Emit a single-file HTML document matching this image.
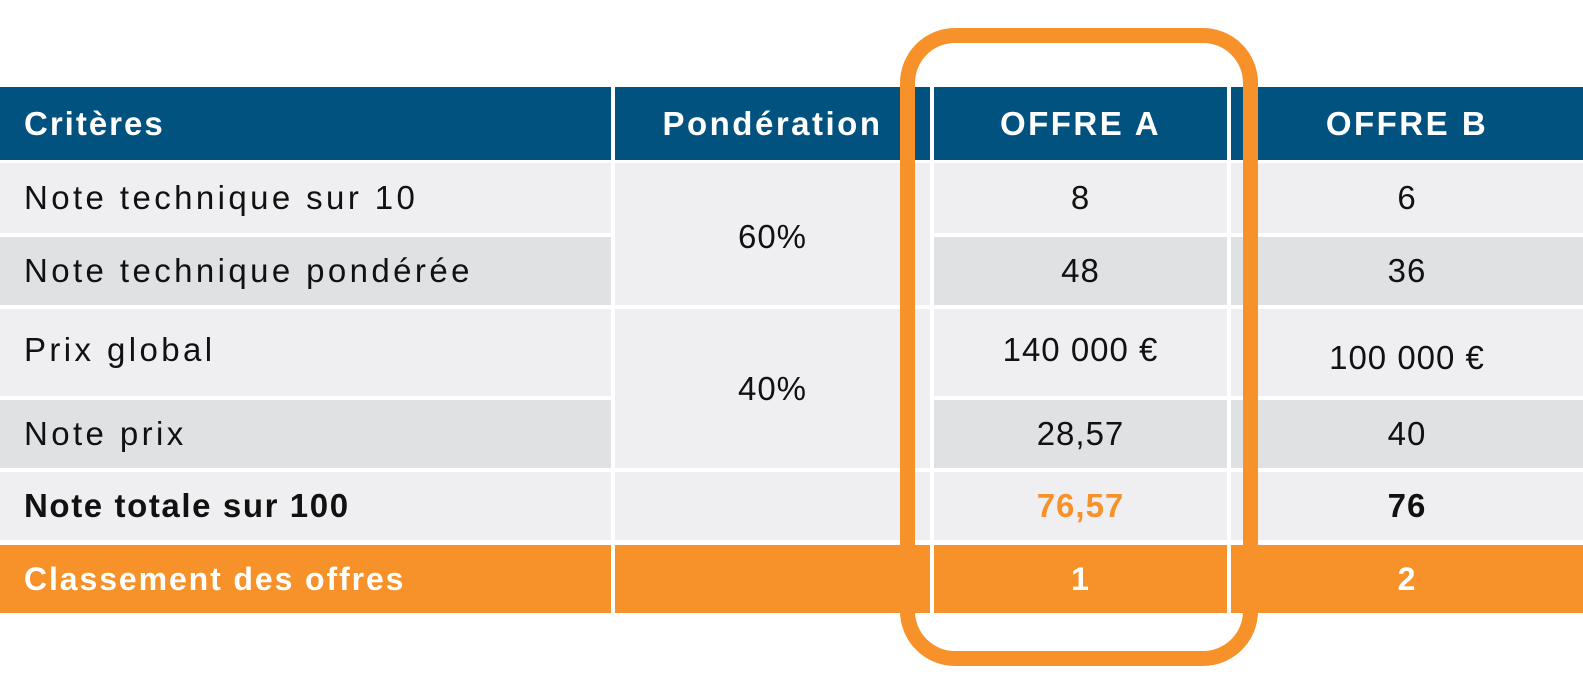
<!DOCTYPE html>
<html><head><meta charset="utf-8"><style>
body{margin:0;width:1583px;height:690px;background:#fff;position:relative;overflow:hidden;font-family:"Liberation Sans",sans-serif;}
.c{position:absolute;display:flex;align-items:center;justify-content:center;box-sizing:border-box;font-size:33px;color:#111;letter-spacing:1px;}
.l{justify-content:flex-start;padding-left:24px;letter-spacing:3.4px;}
.h{background:#02527f;color:#fff;font-weight:bold;font-size:33px;letter-spacing:2.5px;}
.h.l{letter-spacing:2px}
.a{background:#efeff1}.b{background:#e0e1e3}
.o{background:#f7922a;color:#fff;font-weight:bold;font-size:32px}
.bold{font-weight:bold}
.l.bold{letter-spacing:1.6px}
</style></head><body>
<div>
<div class="c h l" style="left:0;top:87px;width:611px;height:73px">Critères</div>
<div class="c h" style="left:615px;top:87px;width:315px;height:73px">Pondération</div>
<div class="c h" style="left:934px;top:87px;width:293px;height:73px">OFFRE A</div>
<div class="c h" style="left:1231px;top:87px;width:352px;height:73px">OFFRE B</div>

<div class="c a l" style="left:0;top:163px;width:611px;height:70px">Note technique sur 10</div>
<div class="c a" style="left:615px;top:163px;width:315px;height:142px;padding-top:6px">60%</div>
<div class="c a" style="left:934px;top:163px;width:293px;height:70px">8</div>
<div class="c a" style="left:1231px;top:163px;width:352px;height:70px">6</div>

<div class="c b l" style="left:0;top:237px;width:611px;height:68px">Note technique pondérée</div>
<div class="c b" style="left:934px;top:237px;width:293px;height:68px">48</div>
<div class="c b" style="left:1231px;top:237px;width:352px;height:68px">36</div>

<div class="c a l" style="left:0;top:309px;width:611px;height:87px;align-items:flex-start;padding-top:22px">Prix global</div>
<div class="c a" style="left:615px;top:309px;width:315px;height:159px">40%</div>
<div class="c a" style="left:934px;top:309px;width:293px;height:87px;align-items:flex-start;padding-top:22px">140 000 €</div>
<div class="c a" style="left:1231px;top:309px;width:352px;height:87px;padding-top:10px">100 000 €</div>

<div class="c b l" style="left:0;top:400px;width:611px;height:68px">Note prix</div>
<div class="c b" style="left:934px;top:400px;width:293px;height:68px">28,57</div>
<div class="c b" style="left:1231px;top:400px;width:352px;height:68px">40</div>

<div class="c a l bold" style="left:0;top:472px;width:611px;height:68px">Note totale sur 100</div>
<div class="c a" style="left:615px;top:472px;width:315px;height:68px"></div>
<div class="c a bold" style="left:934px;top:472px;width:293px;height:68px;color:#f7922a">76,57</div>
<div class="c a bold" style="left:1231px;top:472px;width:352px;height:68px">76</div>

<div class="c o l" style="left:0;top:545px;width:611px;height:68px;letter-spacing:1.9px">Classement des offres</div>
<div class="c o" style="left:615px;top:545px;width:315px;height:68px"></div>
<div class="c o" style="left:934px;top:545px;width:293px;height:68px">1</div>
<div class="c o" style="left:1231px;top:545px;width:352px;height:68px">2</div>
</div>
<div style="position:absolute;left:900px;top:28px;width:358px;height:638px;box-sizing:border-box;border:15px solid #f7922a;border-radius:55px"></div>
</body></html>
